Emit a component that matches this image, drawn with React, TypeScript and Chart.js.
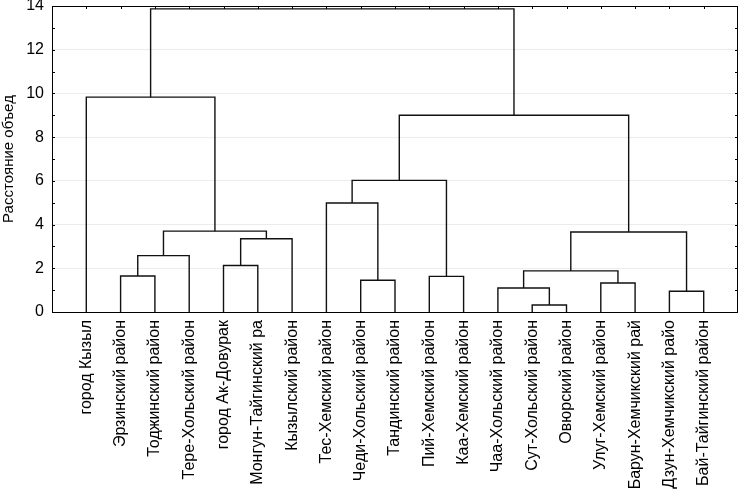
import React, { useEffect, useRef } from "react";
import { Chart, registerables } from "chart.js";

Chart.register(...registerables);

// Leaves of the dendrogram, in display order
const leaves: string[] = [
  "город Кызыл",
  "Эрзинский район",
  "Тоджинский район",
  "Тере-Хольский район",
  "город Ак-Довурак",
  "Монгун-Тайгинский ра",
  "Кызылский район",
  "Тес-Хемский район",
  "Чеди-Хольский район",
  "Тандинский район",
  "Пий-Хемский район",
  "Каа-Хемский район",
  "Чаа-Хольский район",
  "Сут-Хольский район",
  "Овюрский район",
  "Улуг-Хемский район",
  "Барун-Хемчикский рай",
  "Дзун-Хемчикский райо",
  "Бай-Тайгинский район",
];

// Merge steps: ids < 19 are leaves, id 19 + k is the cluster made by merge k
const mergeLeft: number[] = [13, 17, 12, 15, 8, 10, 1, 21, 4, 25, 27, 26, 28, 7, 32, 33, 0, 35];
const mergeRight: number[] = [14, 18, 19, 16, 9, 11, 2, 22, 5, 3, 6, 20, 29, 23, 24, 30, 31, 34];
const mergeHeight: number[] = [0.32, 0.95, 1.1, 1.33, 1.45, 1.63, 1.65, 1.88, 2.13, 2.58, 3.35, 3.66, 3.7, 4.99, 6.02, 9.0, 9.83, 13.87];

const yTicks: number[] = [0, 2, 4, 6, 8, 10, 12, 14];
const yTitle = "Расстояние объед";

const FONT = "'Liberation Sans', Arial, Helvetica, sans-serif";

function buildDatasets() {
  const n = leaves.length;
  const pos: number[] = leaves.map((_, i) => i + 1);
  const hgt: number[] = leaves.map(() => 0);
  const datasets: any[] = [];
  mergeLeft.forEach((l, k) => {
    const r = mergeRight[k];
    const h = mergeHeight[k];
    const xl = pos[l];
    const xr = pos[r];
    datasets.push({
      data: [
        { x: xl, y: hgt[l] },
        { x: xl, y: h },
        { x: xr, y: h },
        { x: xr, y: hgt[r] },
      ],
      showLine: true,
      borderColor: "#111111",
      borderWidth: 1.4,
      pointRadius: 0,
      fill: false,
      tension: 0,
    });
    pos[n + k] = (xl + xr) / 2;
    hgt[n + k] = h;
  });
  return datasets;
}

const framePlugin = {
  id: "frameTicks",
  afterDraw(chart: any) {
    const { ctx, chartArea, scales } = chart;
    const { left, right, top, bottom } = chartArea;
    ctx.save();
    ctx.strokeStyle = "#000";
    ctx.lineWidth = 1;
    ctx.beginPath();
    for (let v = 0; v <= 14; v++) {
      const y = Math.round(scales.y.getPixelForValue(v)) + 0.5;
      ctx.moveTo(left, y);
      ctx.lineTo(left + 3, y);
      ctx.moveTo(right, y);
      ctx.lineTo(right - 3, y);
    }
    leaves.forEach((_, i) => {
      const x = Math.round(scales.x.getPixelForValue(i + 1)) + 0.5;
      ctx.moveTo(x, top);
      ctx.lineTo(x, top + 3);
    });
    ctx.stroke();
    ctx.strokeRect(Math.round(left) + 0.5, Math.round(top) + 0.5, Math.round(right - left) - 1, Math.round(bottom - top));
    ctx.restore();
  },
};

export default function App() {
  const ref = useRef<HTMLCanvasElement | null>(null);
  useEffect(() => {
    if (!ref.current) return;
    const chart = new Chart(ref.current, {
      type: "scatter",
      data: { datasets: buildDatasets() },
      options: {
        animation: false,
        responsive: false,
        maintainAspectRatio: false,
        layout: { padding: { top: 6, right: 1, left: 0, bottom: 0 } },
        plugins: {
          legend: { display: false },
          tooltip: { enabled: false },
        },
        scales: {
          x: {
            type: "linear",
            min: 0,
            max: leaves.length + 1,
            afterBuildTicks: (s: any) => {
              s.ticks = leaves.map((_, i) => ({ value: i + 1 }));
            },
            afterFit: (s: any) => {
              s.height = 179;
              s.paddingLeft = 0;
              s.paddingRight = 0;
            },
            ticks: {
              autoSkip: false,
              minRotation: 90,
              maxRotation: 90,
              padding: 8,
              color: "#000",
              font: { family: FONT, size: 16 },
              callback: (v: any) => leaves[Math.round(Number(v)) - 1] ?? "",
            },
            grid: { display: false, drawTicks: false },
            border: { display: false },
          },
          y: {
            type: "linear",
            min: 0,
            max: 14,
            afterBuildTicks: (s: any) => {
              s.ticks = yTicks.map((v) => ({ value: v }));
            },
            afterFit: (s: any) => {
              s.width = 52;
              s.paddingTop = 0;
              s.paddingBottom = 0;
            },
            ticks: {
              padding: 8,
              color: "#000",
              font: { family: FONT, size: 16 },
            },
            grid: { color: "#ececec", drawTicks: false, lineWidth: 1 },
            border: { display: false },
            title: {
              display: true,
              text: yTitle,
              color: "#000",
              padding: 0,
              font: { family: FONT, size: 15 },
            },
          },
        },
      },
      plugins: [framePlugin],
    });
    return () => chart.destroy();
  }, []);
  return (
    <div style={{ position: "absolute", left: 0, top: 0, width: 739, height: 491, background: "#fff" }}>
      <canvas ref={ref} width={739} height={491} />
    </div>
  );
}
